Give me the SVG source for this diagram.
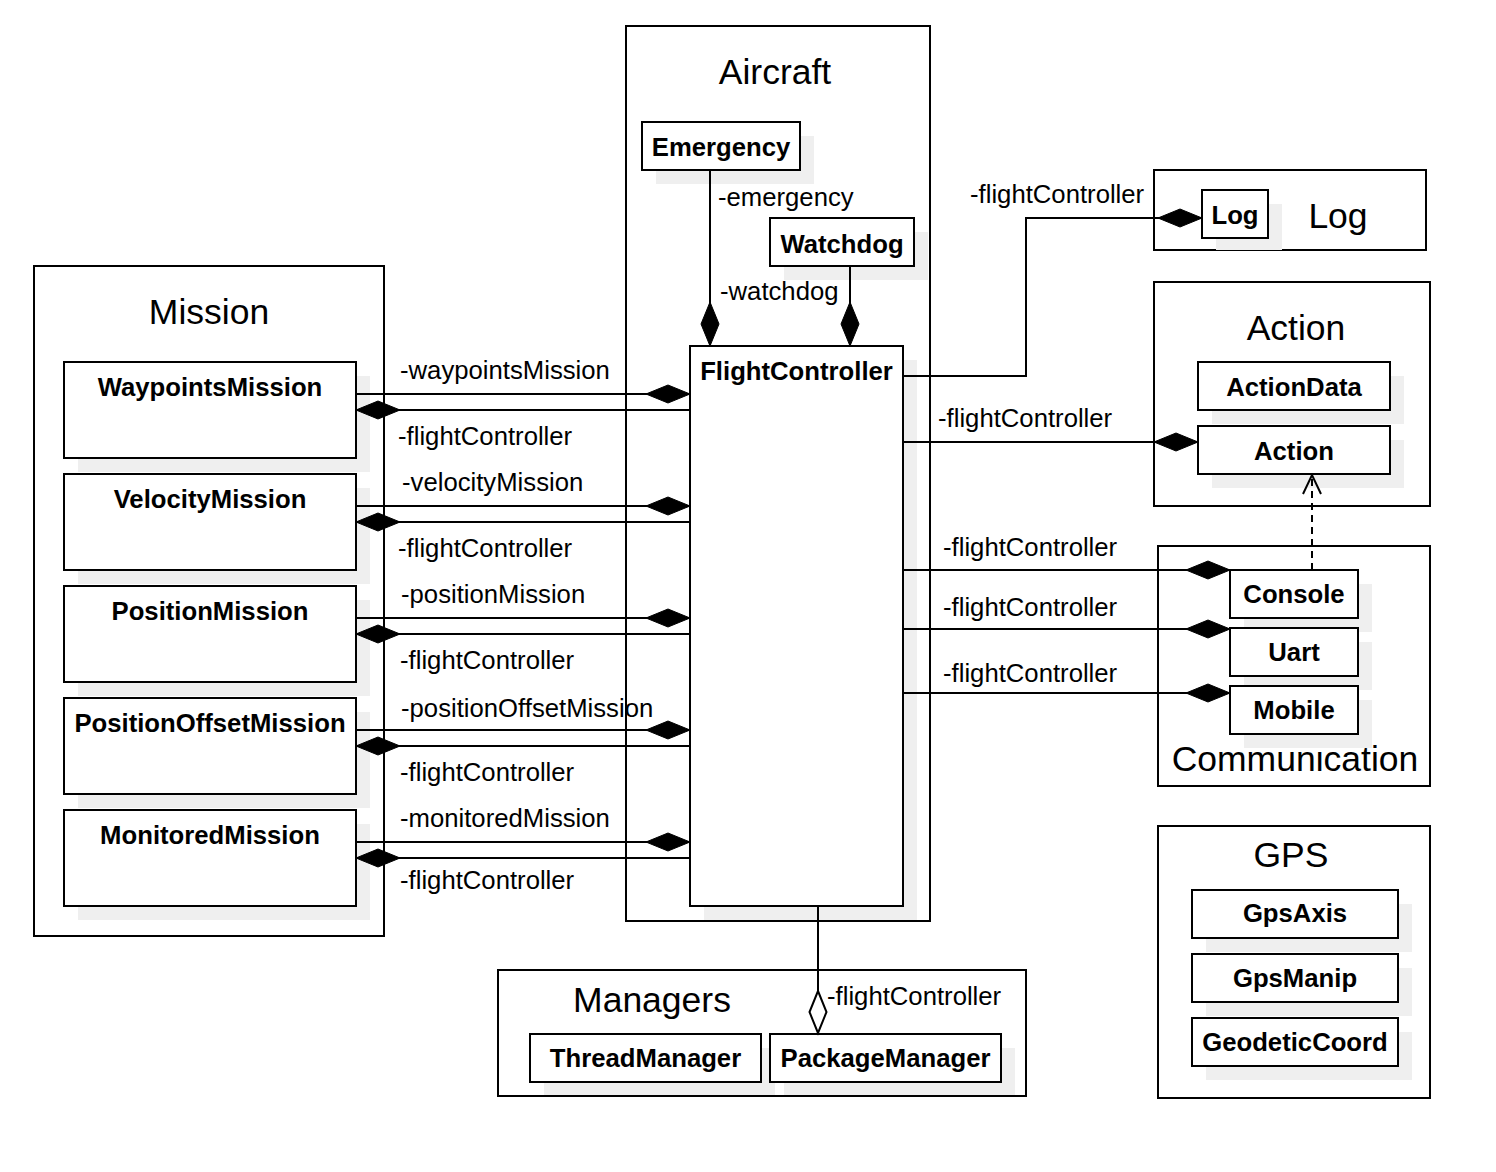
<svg xmlns="http://www.w3.org/2000/svg" width="1496" height="1172" viewBox="0 0 1496 1172">
<style>
text{font-family:"Liberation Sans",Arial,sans-serif;fill:#000}
.pkg{fill:#fff;stroke:#000;stroke-width:2}
.cls{fill:#fff;stroke:#000;stroke-width:2}
.sh{fill:#efefef;stroke:none}
.t{font-size:35.5px;text-anchor:middle}
.n{font-size:25.7px;font-weight:bold;text-anchor:middle}
.l{font-size:25.7px}
.c{fill:none;stroke:#000;stroke-width:2}
.comp{marker-end:url(#dia)}
.aggr{marker-end:url(#odia)}
.dep{stroke-dasharray:7 5;marker-end:url(#open)}
</style>
<defs>
<marker id="dia" viewBox="0 0 44 18" refX="44" refY="9" markerWidth="44" markerHeight="18" markerUnits="userSpaceOnUse" orient="auto" overflow="visible">
<path d="M0,9 L22,0 L44,9 L22,18 Z" fill="#000" stroke="#000" stroke-width="1"/>
</marker>
<marker id="odia" viewBox="0 0 44 18" refX="44" refY="9" markerWidth="44" markerHeight="18" markerUnits="userSpaceOnUse" orient="auto" overflow="visible">
<path d="M1,9 L22,0.5 L43,9 L22,17.5 Z" fill="#fff" stroke="#000" stroke-width="2"/>
</marker>
<marker id="open" viewBox="0 0 20 18" refX="19" refY="9" markerWidth="20" markerHeight="18" markerUnits="userSpaceOnUse" orient="auto" overflow="visible">
<path d="M0,0 L19,9 L0,18" fill="none" stroke="#000" stroke-width="2"/>
</marker>
</defs>
<rect width="1496" height="1172" fill="#fff"/>

<g id="pkg-aircraft"><rect class="pkg" x="626" y="26" width="304" height="895"/><text class="t" x="775" y="84">Aircraft</text></g>
<g id="pkg-mission"><rect class="pkg" x="34" y="266" width="350" height="670"/><text class="t" x="209" y="324">Mission</text></g>
<g id="pkg-log"><rect class="pkg" x="1154" y="170" width="272" height="80"/><text class="t" x="1338" y="228">Log</text></g>
<g id="pkg-action"><rect class="pkg" x="1154" y="282" width="276" height="224"/><text class="t" x="1296" y="340">Action</text></g>
<g id="pkg-communication"><rect class="pkg" x="1158" y="546" width="272" height="240"/><text class="t" x="1295" y="771">Communication</text></g>
<g id="pkg-gps"><rect class="pkg" x="1158" y="826" width="272" height="272"/><text class="t" x="1291" y="867">GPS</text></g>
<g id="pkg-managers"><rect class="pkg" x="498" y="970" width="528" height="126"/><text class="t" x="652" y="1012">Managers</text></g>

<g id="emergency"><rect class="sh" x="656" y="136" width="158" height="48"/><rect class="cls" x="642" y="122" width="158" height="48"/><text class="n" x="721" y="156">Emergency</text></g>
<g id="watchdog"><rect class="sh" x="784" y="232" width="144" height="48"/><rect class="cls" x="770" y="218" width="144" height="48"/><text class="n" x="842" y="253">Watchdog</text></g>
<g id="flightcontroller"><rect class="sh" x="704" y="360" width="213" height="560"/><rect class="cls" x="690" y="346" width="213" height="560"/><text class="n" x="796.5" y="380">FlightController</text></g>

<g id="waypointsmission"><rect class="sh" x="78" y="376" width="292" height="96"/><rect class="cls" x="64" y="362" width="292" height="96"/><text class="n" x="210" y="396">WaypointsMission</text></g>
<g id="velocitymission"><rect class="sh" x="78" y="488" width="292" height="96"/><rect class="cls" x="64" y="474" width="292" height="96"/><text class="n" x="210" y="508">VelocityMission</text></g>
<g id="positionmission"><rect class="sh" x="78" y="600" width="292" height="96"/><rect class="cls" x="64" y="586" width="292" height="96"/><text class="n" x="210" y="620">PositionMission</text></g>
<g id="positionoffsetmission"><rect class="sh" x="78" y="712" width="292" height="96"/><rect class="cls" x="64" y="698" width="292" height="96"/><text class="n" x="210" y="732">PositionOffsetMission</text></g>
<g id="monitoredmission"><rect class="sh" x="78" y="824" width="292" height="96"/><rect class="cls" x="64" y="810" width="292" height="96"/><text class="n" x="210" y="844">MonitoredMission</text></g>

<g id="log"><rect class="sh" x="1216" y="204" width="66" height="46"/><rect class="cls" x="1202" y="190" width="66" height="48"/><text class="n" x="1235" y="224">Log</text></g>
<g id="actiondata"><rect class="sh" x="1212" y="376" width="192" height="48"/><rect class="cls" x="1198" y="362" width="192" height="48"/><text class="n" x="1294" y="396">ActionData</text></g>
<g id="action"><rect class="sh" x="1212" y="440" width="192" height="48"/><rect class="cls" x="1198" y="426" width="192" height="48"/><text class="n" x="1294" y="460">Action</text></g>
<g id="console"><rect class="sh" x="1244" y="584" width="128" height="48"/><rect class="cls" x="1230" y="570" width="128" height="48"/><text class="n" x="1294" y="603">Console</text></g>
<g id="uart"><rect class="sh" x="1244" y="642" width="128" height="48"/><rect class="cls" x="1230" y="628" width="128" height="48"/><text class="n" x="1294" y="661">Uart</text></g>
<g id="mobile"><rect class="sh" x="1244" y="700" width="128" height="48"/><rect class="cls" x="1230" y="686" width="128" height="48"/><text class="n" x="1294" y="719">Mobile</text></g>
<g id="gpsaxis"><rect class="sh" x="1206" y="904" width="206" height="48"/><rect class="cls" x="1192" y="890" width="206" height="48"/><text class="n" x="1295" y="922">GpsAxis</text></g>
<g id="gpsmanip"><rect class="sh" x="1206" y="968" width="206" height="48"/><rect class="cls" x="1192" y="954" width="206" height="48"/><text class="n" x="1295" y="987">GpsManip</text></g>
<g id="geodeticcoord"><rect class="sh" x="1206" y="1032" width="206" height="48"/><rect class="cls" x="1192" y="1018" width="206" height="48"/><text class="n" x="1295" y="1051">GeodeticCoord</text></g>
<g id="threadmanager"><rect class="sh" x="544" y="1048" width="231" height="47"/><rect class="cls" x="530" y="1034" width="231" height="48"/><text class="n" x="645.5" y="1067">ThreadManager</text></g>
<g id="packagemanager"><rect class="sh" x="784" y="1048" width="231" height="47"/><rect class="cls" x="770" y="1034" width="231" height="48"/><text class="n" x="885.5" y="1067">PackageManager</text></g>

<g id="connectors">
<path class="c comp" d="M710,170 V346"/>
<path class="c comp" d="M850,266 V346"/>
<path class="c comp" d="M903,376 H1026 V218 H1202"/>
<path class="c comp" d="M903,442 H1198"/>
<path class="c comp" d="M903,570 H1230"/>
<path class="c comp" d="M903,629 H1230"/>
<path class="c comp" d="M903,693 H1230"/>
<path class="c dep" d="M1312,570 V475"/>
<path class="c aggr" d="M818,906 V1034"/>
<path class="c comp" d="M356,394 H690"/>
<path class="c comp" d="M690,410 H356"/>
<path class="c comp" d="M356,506 H690"/>
<path class="c comp" d="M690,522 H356"/>
<path class="c comp" d="M356,618 H690"/>
<path class="c comp" d="M690,634 H356"/>
<path class="c comp" d="M356,730 H690"/>
<path class="c comp" d="M690,746 H356"/>
<path class="c comp" d="M356,842 H690"/>
<path class="c comp" d="M690,858 H356"/>
<text class="l" x="718" y="206">-emergency</text>
<text class="l" x="720" y="300">-watchdog</text>
<text class="l" x="970" y="203">-flightController</text>
<text class="l" x="938" y="427">-flightController</text>
<text class="l" x="943" y="556">-flightController</text>
<text class="l" x="943" y="616">-flightController</text>
<text class="l" x="943" y="682">-flightController</text>
<text class="l" x="827" y="1005">-flightController</text>
<text class="l" x="400" y="379">-waypointsMission</text>
<text class="l" x="398" y="445">-flightController</text>
<text class="l" x="402" y="491">-velocityMission</text>
<text class="l" x="398" y="557">-flightController</text>
<text class="l" x="401" y="603">-positionMission</text>
<text class="l" x="400" y="669">-flightController</text>
<text class="l" x="401" y="717">-positionOffsetMission</text>
<text class="l" x="400" y="781">-flightController</text>
<text class="l" x="400" y="827">-monitoredMission</text>
<text class="l" x="400" y="889">-flightController</text>
</g>
</svg>
